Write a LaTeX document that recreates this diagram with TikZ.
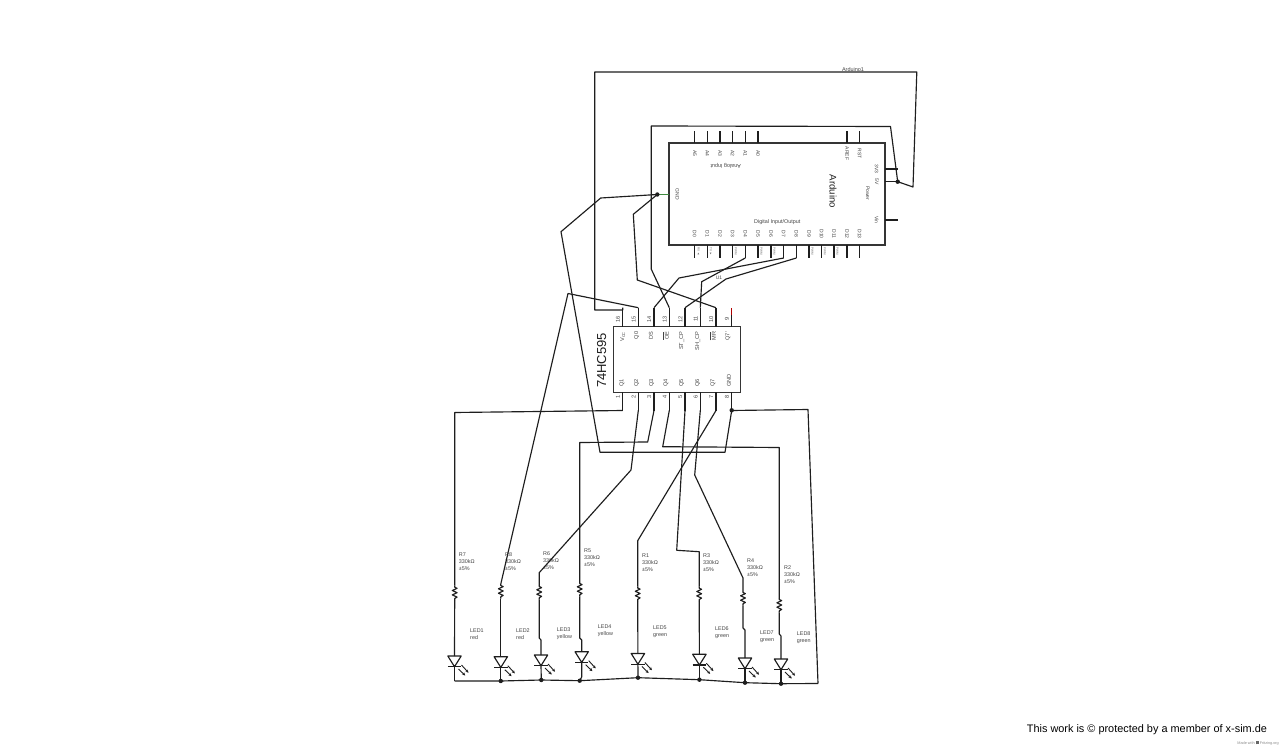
\documentclass[tikz,border=0pt]{standalone}
\usepackage{fontspec}
\setmainfont{Liberation Sans}
\usetikzlibrary{arrows.meta}
\definecolor{ink}{HTML}{1E1E1E}
\definecolor{txt}{HTML}{444444}
\definecolor{leadg}{HTML}{3F8A3F}
\tikzset{
  x=1pt,y=-1pt,
  wire/.style={draw=ink,line width=1.15pt,line join=round},
  boxline/.style={draw=ink!90,line width=1.5pt,fill=white},
  chip/.style={boxline,rectangle,inner sep=0pt},
  dotj/.style={circle,fill=ink,inner sep=0pt,minimum size=4.4pt},
  tiny/.style={text=txt,inner sep=0pt,font=\fontsize{5.4}{6}\selectfont},
  micro/.style={text=txt!80,inner sep=0pt,rotate=-90,font=\fontsize{3}{3}\selectfont},
  pinlab/.style={tiny,rotate=-90,font=\fontsize{5}{5}\selectfont},
  iclab/.style={tiny,rotate=90,font=\fontsize{5.6}{6}\selectfont},
  notes/.style={text=txt,inner sep=0pt,anchor=north west,align=left,font=\fontsize{5.4}{6.9}\selectfont},
  resistor/.pic={
    \coordinate (-top) at (0,0); \coordinate (-bot) at (0,14.5);
    \draw[wire] (0,0) -- (0,1.5) -- (2.4,2.6) -- (-2.4,4.8) -- (2.4,7) -- (-2.4,9.2) -- (2.4,11.4) -- (0,12.8) -- (0,14.5);
  },
  led/.pic={
    \coordinate (-top) at (0,0); \coordinate (-tip) at (0,10.7);
    \draw[wire] (-6.7,0) -- (6.7,0) -- (0,10.7) -- cycle;
    \draw[wire] (-6.7,10.7) -- (6.7,10.7);
    \draw[draw=ink,line width=.9pt,-{Stealth[length=3pt,width=3pt]}] (7,9) -- (14,16.7);
    \draw[draw=ink,line width=.9pt,-{Stealth[length=3pt,width=3pt]}] (4,13) -- (10.7,19.5);
  }
}
\begin{document}
\begin{tikzpicture}
\useasboundingbox (0,0) rectangle (1280,746);
\fill[white] (0,0) rectangle (1280,746);

% ---------- Arduino ----------
\node[chip,minimum width=216pt,minimum height=102pt] (ard) at (777,194) {};
\foreach \n/\x in {A5/694.7,A4/707.3,A3/720,A2/732.7,A1/745.3,A0/758,AREF/847,RST/859.7}{
  \coordinate (ard\n) at (\x,130.7);
  \coordinate (ard\n e) at (\x,143);
  \draw[wire] (ard\n e) -- (ard\n);
  \node[pinlab] (lab\n) at (\x,153.5) {\n};
}
\foreach \n/\x in {D0/694.7,D1/707.3,D2/720,D3/732.7,D4/745.3,D5/758,D6/771,D7/783.7,D8/796.4,D9/809,D10/821.7,D11/834,D12/847,D13/859.7}{
  \coordinate (ard\n) at (\x,258);
  \coordinate (ard\n e) at (\x,245);
  \draw[wire] (ard\n e) -- (ard\n);
  \node[pinlab] (lab\n) at (\x,234) {\n};
}
\foreach \n/\x in {D3/736,D5/761.5,D6/774.5,D9/812.5,D10/825,D11/837.5}{
  \node[micro] (pwm\n) at (\x,251.5) {PWM};
}
\node[micro] (rxl) at (698.7,251.5) {RX ◄};
\node[micro] (txl) at (710.9,251.5) {TX ►};
\foreach \n/\y in {3V3/169,5V/181.7,Vin/220}{
  \coordinate (ard\n) at (897.7,\y);
  \coordinate (ard\n e) at (885,\y);
  \node[pinlab] (lab\n) at (876.7,\y) {\n};
}
\draw[wire] (ard3V3e) -- (ard3V3);
\draw[wire] (ard5Ve) -- (ard5V);
\draw[wire] (ardVine) -- (ardVin);
\coordinate (ardGND) at (657.3,194.5);
\coordinate (ardGNDe) at (669,194.5);
\draw[draw=leadg,line width=1.1pt] (ardGNDe) -- (ardGND);
\node[pinlab] (labGND) at (677.3,194.5) {GND};
\node[text=ink,inner sep=0pt,rotate=-90,font=\fontsize{9.6}{10}\selectfont] (ardname) at (833,191.5) {Arduino};
\node[pinlab] (labpower) at (867.7,193.3) {Power};
\node[tiny,rotate=180] (labanalog) at (725.7,166) {Analog Input};
\node[tiny] (labdigital) at (777.3,222.3) {Digital Input/Output};
\node[tiny,font=\fontsize{5.5}{6}\selectfont] (labtitle) at (853,70) {Arduino1};
\node[tiny,font=\fontsize{5}{5}\selectfont] (labu) at (719,278) {U1};

% ---------- 74HC595 ----------
\node[chip,minimum width=127.4pt,minimum height=65.6pt] (ic) at (677,359.5) {};
\foreach \n/\x/\t/\lx in {16/622.7/V\textsubscript{CC}/622.7,15/638.3/Q0/636.7,14/654/DS/651,13/669.3/$\overline{\mbox{OE}}$/666,12/685/ST\_CP/681.7,11/700.3/SH\_CP/697.7,10/716/$\overline{\mbox{MR}}$/713}{
  \coordinate (ic\n) at (\x,307.7);
  \coordinate (ic\n e) at (\x,326.7);
  \draw[wire] (ic\n e) -- (ic\n);
  \node[iclab] (num\n) at (\x-4.7,319) {\n};
  \node[iclab,anchor=east] (name\n) at (\lx,331.5) {\t};
}
\coordinate (ic9) at (731.7,307.7);
\coordinate (ic9e) at (731.7,326.7);
\draw[wire] (ic9e) -- (731.7,315);
\draw[draw=red!70!black,line width=1pt] (731.7,315) -- (ic9);
\node[iclab] (num9) at (727,319) {9};
\node[iclab,anchor=east] (name9) at (728,331.5) {Q7'};
\foreach \n/\x/\t/\lx in {1/622.7/Q1/622,2/638.3/Q2/636.7,3/654/Q3/651.7,4/669.3/Q4/666,5/685/Q5/681.7,6/700.3/Q6/697.7,7/716/Q7/713,8/731.7/GND/729}{
  \coordinate (ic\n) at (\x,410.5);
  \coordinate (ic\n e) at (\x,392.3);
  \draw[wire] (ic\n e) -- (\x,403);
  \draw[draw=ink,line width=1.1pt] (\x,403) -- (ic\n);
  \node[iclab] (num\n) at (\x-4.7,396.5) {\n};
  \node[iclab,anchor=west] (name\n) at (\lx,387) {\t};
}
\node[text=ink,inner sep=0pt,rotate=90,font=\fontsize{13}{13}\selectfont] (icname) at (601.7,360.5) {74HC595};

% ---------- resistors and LEDs ----------
\pic (r7) at (454.7,585.7) {resistor};
\pic (r8) at (500.8,584) {resistor};
\pic (r6) at (539.2,585) {resistor};
\pic (r5) at (579.7,582) {resistor};
\pic (r1) at (637.7,586.5) {resistor};
\pic (r3) at (699.2,586.7) {resistor};
\pic (r4) at (743,591) {resistor};
\pic (r2) at (779.3,598) {resistor};
\pic (l1) at (454.5,656) {led};
\pic (l2) at (500.8,656.7) {led};
\pic (l3) at (541,655) {led};
\pic (l4) at (581.7,651.7) {led};
\pic (l5) at (637.9,653.5) {led};
\pic (l6) at (699.4,654.3) {led};
\pic (l7) at (745,658) {led};
\pic (l8) at (781,659) {led};

\node[notes] (tr7) at (458.7,553) {R7\\330kΩ\\±5\%};
\node[notes] (tr8) at (505,552.7) {R8\\330kΩ\\±5\%};
\node[notes] (tr6) at (543,552) {R6\\330kΩ\\±5\%};
\node[notes] (tr5) at (584,549) {R5\\330kΩ\\±5\%};
\node[notes] (tr1) at (642,554) {R1\\330kΩ\\±5\%};
\node[notes] (tr3) at (703,554) {R3\\330kΩ\\±5\%};
\node[notes] (tr4) at (747,558.5) {R4\\330kΩ\\±5\%};
\node[notes] (tr2) at (784,565.7) {R2\\330kΩ\\±5\%};
\node[notes] (tl1) at (470,629) {LED1\\red};
\node[notes] (tl2) at (516,629) {LED2\\red};
\node[notes] (tl3) at (556.7,628) {LED3\\yellow};
\node[notes] (tl4) at (597.7,625) {LED4\\yellow};
\node[notes] (tl5) at (653,626) {LED5\\green};
\node[notes] (tl6) at (715,627) {LED6\\green};
\node[notes] (tl7) at (760,630.7) {LED7\\green};
\node[notes] (tl8) at (796.7,632) {LED8\\green};

% ---------- junctions ----------
\node[dotj] (j5v) at (897.7,181.7) {};
\node[dotj] (jgnd) at (657.3,194.5) {};
\node[dotj] (j8) at (731.7,410.3) {};
\node[dotj] (b2) at (500.8,681) {};
\node[dotj] (b3) at (541.3,680) {};
\node[dotj] (b4) at (579.7,680.7) {};
\node[dotj] (b5) at (638,677.7) {};
\node[dotj] (b6) at (699.4,679.7) {};
\node[dotj] (b7) at (745,682.7) {};
\node[dotj] (b8) at (781,683.7) {};

% ---------- waypoints ----------
\coordinate (b1) at (454.5,681);
\coordinate (bend) at (818,683.5);

% ---------- wires from Arduino to 74HC595 ----------
\draw[wire] (ic16) -- (622.7,310) -- (594.8,310) -- (594.8,72) -- (916.8,72) -- (913,187) -- (j5v.center);
\draw[wire] (j5v.center) -- (890.5,126.5) -- (651.2,126) -- (651.2,269) -- (ic13);
\draw[wire] (ic15) -- (568,293.5) -- (r8-top);
\draw[wire] (jgnd.center) -- (600.7,198) -- (561,231.7) -- (600,452.3) -- (725,452.3) -- (ic8);
\draw[wire] (jgnd.center) -- (633.3,214.3) -- (637.3,280) -- (ic10);
\draw[wire] (ic14) -- (679,278) -- (ardD7);
\draw[wire] (ic12) -- (726,279) -- (ardD8);
\draw[wire] (ic11) -- (701.7,281.7) -- (ardD4);

% ---------- wires from 74HC595 to resistors ----------
\draw[wire] (ic1) -- (454.7,412.5) -- (r7-top);
\draw[wire] (ic2) -- (631,470) -- (539.2,572.7) -- (r6-top);
\draw[wire] (ic3) -- (647.7,442) -- (579.7,442.5) -- (r5-top);
\draw[wire] (ic4) -- (662.7,446.7) -- (779.3,447.5) -- (r2-top);
\draw[wire] (ic5) -- (676.7,550.3) -- (699.2,551.7) -- (r3-top);
\draw[wire] (ic6) -- (694.7,475) -- (743,578) -- (r4-top);
\draw[wire] (ic7) -- (637.7,540.7) -- (r1-top);
\draw[wire] (ic8) -- (808,409.5) -- (bend);

% ---------- resistors to LEDs to bus ----------
\draw[wire] (r7-bot) -- (l1-top);
\draw[wire] (r8-bot) -- (l2-top);
\draw[wire] (r6-bot) -- (539.2,638) -- (541,640) -- (l3-top);
\draw[wire] (r5-bot) -- (579.7,638) -- (581.7,640) -- (l4-top);
\draw[wire] (r1-bot) -- (l5-top);
\draw[wire] (r3-bot) -- (l6-top);
\draw[wire] (r4-bot) -- (743,628) -- (745,630) -- (l7-top);
\draw[wire] (r2-bot) -- (779.3,634) -- (781,636) -- (l8-top);
\draw[wire] (l1-tip) -- (b1);
\draw[wire] (l2-tip) -- (b2.center);
\draw[wire] (l3-tip) -- (b3.center);
\draw[wire] (l4-tip) -- (581.7,677) -- (b4.center);
\draw[wire] (l5-tip) -- (b5.center);
\draw[wire] (l6-tip) -- (b6.center);
\draw[wire] (l7-tip) -- (b7.center);
\draw[wire] (l8-tip) -- (b8.center);
\draw[wire] (b1) -- (b2.center) -- (b3.center) -- (b4.center) -- (b5.center) -- (b6.center) -- (b7.center) -- (b8.center) -- (bend);

% ---------- footer ----------
\node[inner sep=0pt,anchor=west,text=black,font=\fontsize{10.9}{12}\selectfont] (foot) at (1026.7,729.3) {This work is © protected by a member of x-sim.de};
\node[inner sep=0pt,anchor=east,text=black!45,font=\fontsize{3.8}{4}\selectfont] (made) at (1279,743.3) {Made with \textcolor{black!60}{\rule{3pt}{3pt}} Fritzing.org};
\end{tikzpicture}
\end{document}
